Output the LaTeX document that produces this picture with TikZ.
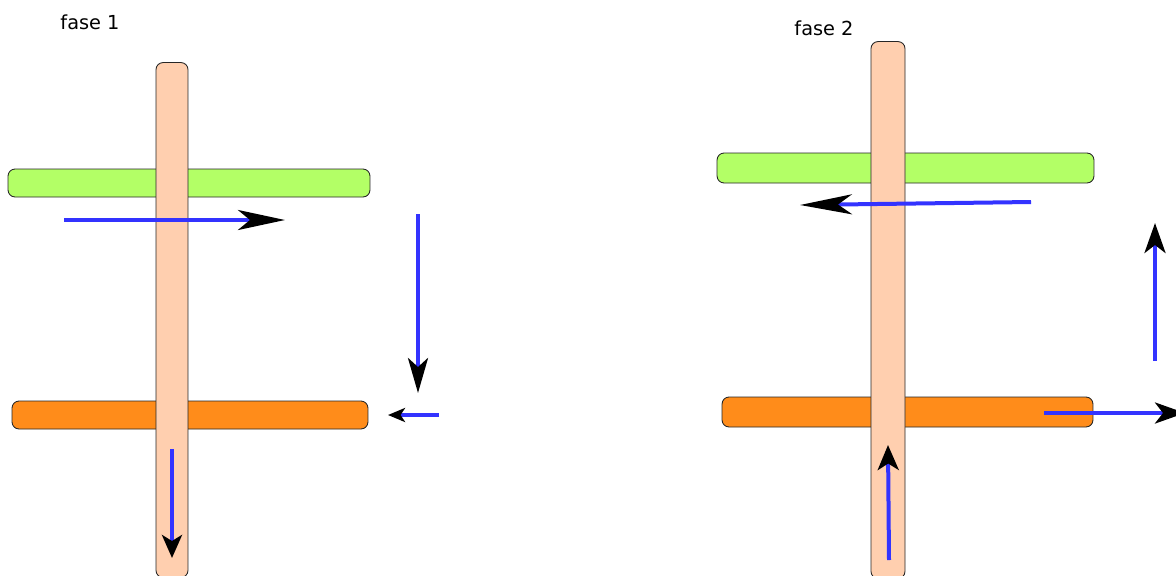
\documentclass[tikz,border=0pt]{standalone}
\usepackage{fontspec}
\setmainfont{DejaVu Sans}
\usepackage{tikz}
\usetikzlibrary{arrows.meta,positioning}
\definecolor{peach}{HTML}{FFCFAF}
\definecolor{limegreen}{HTML}{B3FF66}
\definecolor{tangerine}{HTML}{FF8C1A}
\definecolor{flowblue}{HTML}{3333FF}
\tikzset{
  bar/.style={draw=black!85, line width=0.5pt, rounded corners=4pt, inner sep=0pt},
  stem/.style={bar, fill=peach},
  plate/.style={bar},
  phase/.style={font=\fontsize{11}{13}\selectfont, inner sep=0pt},
  flow/.style n args={3}{draw=flowblue, line width=0.08cm, line cap=butt,
    -{Stealth[black, length=#1, width=#2, inset=#3]}}
}

\begin{document}
\begin{tikzpicture}[x=0.02cm, y=-0.02cm]
  \useasboundingbox (0,0) rectangle (1176,575);

  % fase 1
  \node[phase] (title1) at (90,22) {fase 1};
  \node[plate, fill=limegreen, minimum width=7.24cm, minimum height=0.56cm] (top1) at (189,183) {};
  \node[plate, fill=tangerine, minimum width=7.12cm, minimum height=0.56cm] (low1) at (190,415) {};
  \node[stem, minimum width=0.64cm, minimum height=10.3cm] (stem1) at (172,320) {};

  \coordinate (a1s) at (64,220);   \coordinate (a1e) at (285,220);
  \coordinate (a2s) at (418,214);  \coordinate (a2e) at (418,393);
  \coordinate (a3s) at (439,415);  \coordinate (a3e) at (388,415);
  \coordinate (a4s) at (172,449);  \coordinate (a4e) at (172,558);
  \draw[flow={0.94cm}{0.4cm}{0.24cm}] (a1s) -- (a1e);
  \draw[flow={0.7cm}{0.4cm}{0.18cm}] (a2s) -- (a2e);
  \draw[flow={0.34cm}{0.28cm}{0.09cm}] (a3s) -- (a3e);
  \draw[flow={0.46cm}{0.4cm}{0.12cm}] (a4s) -- (a4e);

  % fase 2
  \node[phase] (title2) at (824,28) {fase 2};
  \node[plate, fill=limegreen, minimum width=7.54cm, minimum height=0.6cm] (top2) at (905.5,168) {};
  \node[plate, fill=tangerine, minimum width=7.42cm, minimum height=0.6cm] (low2) at (907.5,412) {};
  \node[stem, minimum width=0.68cm, minimum height=10.74cm] (stem2) at (888,310) {};

  \coordinate (b1s) at (1031,202); \coordinate (b1e) at (800,205);
  \coordinate (b2s) at (1155,361); \coordinate (b2e) at (1155,223);
  \coordinate (b3s) at (1044,413); \coordinate (b3e) at (1185,413);
  \coordinate (b4s) at (889,560);  \coordinate (b4e) at (888,445);
  \draw[flow={1.04cm}{0.4cm}{0.28cm}] (b1s) -- (b1e);
  \draw[flow={0.6cm}{0.42cm}{0.16cm}] (b2s) -- (b2e);
  \draw[flow={0.6cm}{0.42cm}{0.16cm}] (b3s) -- (b3e);
  \draw[flow={0.5cm}{0.42cm}{0.13cm}] (b4s) -- (b4e);
\end{tikzpicture}
\end{document}
